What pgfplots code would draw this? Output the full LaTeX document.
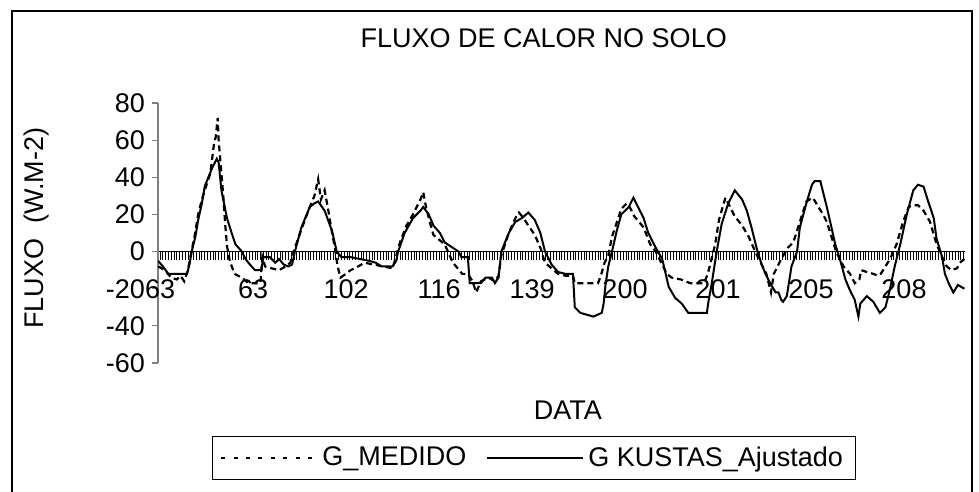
\documentclass[border=0pt]{standalone}
\usepackage{fontspec}
\setmainfont{Liberation Sans}
\usepackage{pgfplots}
\pgfplotsset{compat=1.18}
\newcommand\f{\fontsize{13.5}{16}\selectfont}
\begin{document}
\begin{tikzpicture}
% chart area frame (1 px of the reference = 0.5pt, origin at top left)
\draw[black, line width=0.7pt] (6pt,-260pt) -- (6pt,-5.5pt) -- (486pt,-5.5pt) -- (486pt,-260pt);
\begin{axis}[
    at={(79pt,-181.5pt)}, anchor=south west,
    scale only axis, width=403.5pt, height=130pt,
    xmin=-2.2, xmax=865.6, ymin=-60, ymax=80,
    enlargelimits=false,
    axis x line=middle, axis y line=left,
    x axis line style={-, black, line width=0.6pt},
    y axis line style={-, gray, line width=0.6pt},
    tick align=outside,
    hide obscured x ticks=false, hide obscured y ticks=false,
    ytick={-60,-40,...,80},
    major tick length=3pt,
    y tick style={gray, line width=0.6pt},
    xtick={0,100,...,800},
    xticklabels={63,63,102,116,139,200,201,205,208},
    major x tick style={draw=none},
    minor xtick={0,3,...,864},
    minor tick length=4pt,
    minor x tick style={black, line width=0.4pt},
    tick label style={font=\f},
    xticklabel style={yshift=-7.5pt},
    /pgf/number format/assume math mode=true,
    title={FLUXO DE CALOR NO SOLO},
    title style={at={(0.478,1.204)}, anchor=center, yshift=0pt, font=\f},
    xlabel={DATA},
    xlabel style={at={(0.508,-0.181)}, anchor=center, yshift=0pt, font=\f},
    ylabel={FLUXO\ \ (W.M-2)},
    ylabel style={at={(-0.150,0.519)}, anchor=center, rotate=0, font=\f},
    legend columns=2,
    legend style={at={(0.4653,-0.281)}, anchor=north, font=\f, draw=black,
        inner xsep=4pt, inner ysep=3pt,
        /tikz/every even column/.append style={column sep=8pt}},
    legend image code/.code={\draw[#1] (0pt,0pt) -- (48pt,0pt);},
]
\addlegendimage{black, line width=1.1pt, dash pattern=on 2pt off 4.2pt}
\addlegendimage{black, line width=1pt}
% G_MEDIDO (dashed)
\addplot[black, line width=1.1pt, dash pattern=on 3pt off 2pt, forget plot] coordinates {
(-2,-8) (5,-10) (12,-14) (18,-15) (22,-13) (26,-16) (30,-10) (33,-2) (37,8)
(41,20) (45,28) (50,36) (54,42) (58,58) (60,62) (62,72) (63,60) (65,48) (68,30)
(70,15) (72,3) (75,-5) (80,-12) (88,-14) (95,-17) (102,-17) (108,-17) (110,-3)
(113,-8) (120,-9) (128,-10) (135,-8) (140,-6) (145,2) (152,12) (161,24) (166,30)
(170,39) (173,28) (177,33) (181,22) (185,10) (188,2) (191,-8) (194,-14) (197,-13)
(205,-10) (213,-8) (220,-6) (230,-7) (240,-8) (250,-9) (253,-4) (258,5) (265,14)
(272,20) (280,28) (283,32) (286,24) (290,16) (294,9) (301,6) (306,4) (315,-6)
(325,-12) (331,-12) (336,-16) (340,-22) (345,-16) (353,-14) (360,-16) (364,-13)
(367,-2) (375,10) (382,18) (386,21) (391,18) (396,14) (403,9) (409,2) (414,-6)
(421,-9) (428,-12) (436,-13) (444,-13) (446,-17) (471,-17) (474,-13) (478,-6)
(482,-2) (486,8) (490,14) (496,23) (502,26) (505,24) (510,19) (520,13) (527,4)
(533,0) (540,-7) (545,-12) (550,-14) (560,-15) (570,-17) (585,-17) (589,-12)
(593,-4) (597,4) (601,17) (605,24) (608,29) (613,24) (618,19) (626,14) (633,8)
(640,0) (645,-5) (652,-12) (657,-22) (660,-12) (668,-4) (675,2) (681,5) (688,16)
(695,27) (702,29) (708,24) (713,20) (717,16) (722,8) (727,0) (735,-8) (742,-12)
(747,-17) (752,-15) (754,-10) (760,-11) (767,-12) (772,-13) (775,-12) (780,-8)
(785,-4) (792,4) (799,16) (805,24) (810,25) (815,25) (821,22) (828,16) (835,4)
(841,-3) (846,-8) (851,-10) (857,-9) (860,-6) (865,-4)
};
% G KUSTAS_Ajustado (solid)
\addplot[black, line width=1pt, forget plot] coordinates {
(-2,-5) (3,-8) (9,-12) (20,-12) (29,-12) (32,-6) (34,0) (38,8) (41,17) (45,26)
(48,35) (52,40) (56,45) (61,50) (63,48) (66,33) (72,18) (77,10) (81,4) (88,0)
(92,-4) (95,-6) (102,-10) (109,-10) (111,-3) (118,-3) (124,-6) (128,-4) (133,-7)
(138,-8) (142,-7) (145,0) (152,13) (161,24) (166,26) (170,27) (177,22) (185,11)
(190,0) (195,-3) (205,-3) (215,-4) (225,-5) (232,-6) (238,-8) (250,-8) (254,-5)
(256,0) (263,10) (272,18) (280,22) (283,24) (289,20) (294,14) (301,10) (306,5)
(315,2) (321,0) (324,-3) (331,-3) (333,-17) (345,-17) (350,-14) (357,-14)
(360,-17) (364,-14) (367,0) (375,10) (382,16) (389,18) (396,21) (403,17) (409,10)
(414,0) (421,-7) (428,-11) (436,-12) (444,-12) (446,-30) (452,-33) (466,-35)
(475,-33) (477,-28) (479,-18) (482,-8) (486,0) (491,11) (496,20) (504,24) (509,29)
(514,24) (520,18) (525,10) (532,3) (540,-4) (547,-19) (554,-25) (561,-28)
(568,-33) (588,-33) (590,-26) (593,-18) (597,-5) (600,4) (604,15) (611,26) (618,33)
(626,28) (631,22) (636,13) (642,1) (647,-7) (651,-12) (656,-17) (662,-22)
(665,-22) (668,-26) (670,-27) (674,-24) (679,-8) (685,0) (688,13) (695,26)
(701,36) (704,38) (710,38) (713,32) (717,24) (722,13) (726,4) (731,-4) (737,-15)
(742,-21) (747,-26) (751,-35) (753,-28) (760,-24) (767,-27) (774,-33) (780,-30)
(785,-20) (790,-8) (796,4) (803,20) (810,33) (815,36) (821,35) (826,27) (832,18)
(835,7) (841,-3) (844,-12) (848,-17) (853,-22) (858,-18) (865,-20)
};
\legend{G\_MEDIDO, G KUSTAS\_Ajustado}
\end{axis}
\pgfresetboundingbox
\useasboundingbox (0,0) rectangle (489.5pt,-246pt);
\end{tikzpicture}
\end{document}
